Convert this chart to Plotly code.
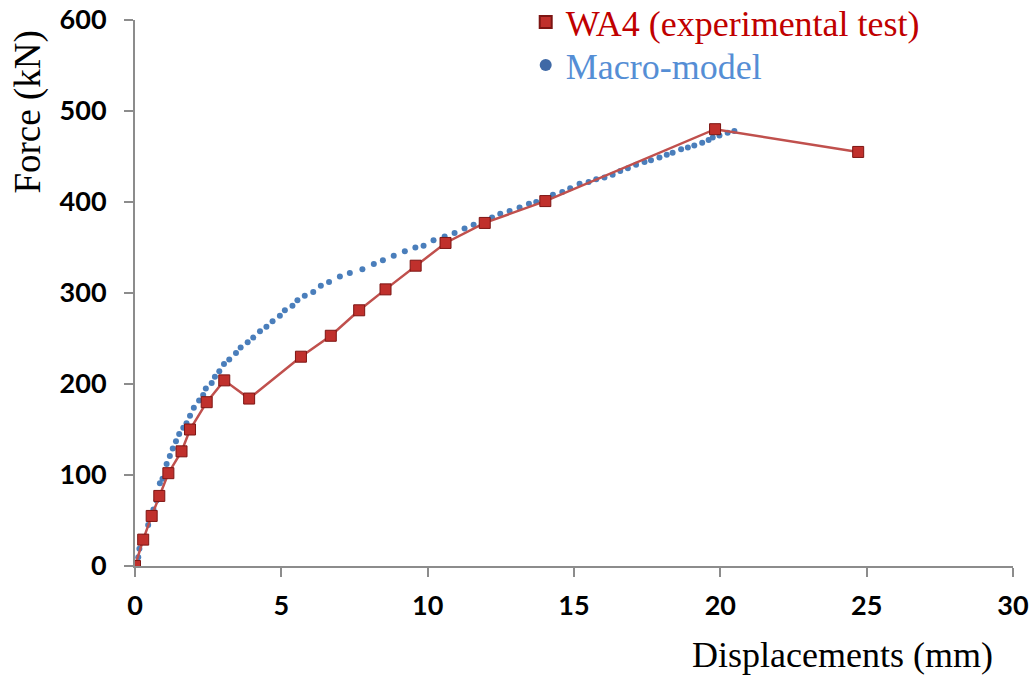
import plotly.graph_objects as go

# Experimental test WA4
exp_disp = [0, 0.28, 0.57, 0.83, 1.14, 1.59, 1.88, 2.45, 3.05, 3.90, 5.67, 6.69, 7.66,
            8.56, 9.59, 10.61, 11.95, 14.02, 19.82, 24.71]
exp_force = [0, 29, 55, 77, 102, 126, 150, 180, 204, 184, 230, 253, 281,
             304, 330, 355, 377, 401, 480, 455]

# Macro-model
mac_disp = [0.0, 0.11, 0.15, 0.30, 0.45, 0.63, 0.74, 0.85, 0.94, 1.08, 1.19, 1.29, 1.40, 1.51,
            1.65, 1.76, 1.88, 2.01, 2.19, 2.33, 2.42, 2.62, 2.73, 2.88, 3.04, 3.22,
            3.45, 3.61, 3.85, 4.04, 4.27, 4.49, 4.70, 4.95, 5.12, 5.38, 5.55, 5.80,
            6.09, 6.35, 6.63, 7.00, 7.34, 7.77, 8.16, 8.47, 8.84, 9.22, 9.58, 9.86,
            10.20, 10.58, 10.92, 11.26, 11.57, 11.90, 12.20, 12.48, 12.80, 13.14, 13.46,
            13.71, 14.00, 14.28, 14.60, 14.87, 15.19, 15.50, 15.76, 16.04, 16.32, 16.58,
            16.84, 17.12, 17.41, 17.63, 17.92, 18.17, 18.37, 18.66, 18.89, 19.11, 19.38,
            19.60, 19.74, 19.97, 20.25, 20.48]
mac_force = [0, 9.5, 19, 32, 45, 62, 72, 91, 96, 112, 121, 129, 137, 145,
             152, 157, 165, 174, 182, 188, 195, 201, 208, 214, 222, 227,
             234, 240, 246, 251, 258, 263, 269, 275, 281, 286, 292, 297,
             301, 308, 312, 318, 322, 326, 332, 336, 341, 346, 350, 352,
             358, 362, 366, 371, 375, 379, 383, 387, 390, 394, 398,
             400, 404, 408, 411, 415, 420, 422, 425, 427, 430, 434,
             437, 441, 444, 446, 449, 452, 454, 458, 460, 462, 465,
             468, 471, 473, 476, 478]

x_ticks = [0, 5, 10, 15, 20, 25, 30]
y_ticks = [0, 100, 200, 300, 400, 500, 600]

RED_LINE = "#c0504d"
RED_MARK = "#c0302c"
RED_EDGE = "#7d1513"
BLUE_DOT = "#4a7ebb"

fig = go.Figure()

fig.add_trace(go.Scatter(
    x=mac_disp, y=mac_force, mode="markers",
    marker=dict(color=BLUE_DOT, size=6, symbol="circle"),
    showlegend=False,
))
fig.add_trace(go.Scatter(
    x=exp_disp, y=exp_force, mode="lines+markers",
    line=dict(color=RED_LINE, width=2.5),
    marker=dict(color=RED_MARK, size=11, symbol="square",
                line=dict(color=RED_EDGE, width=1)),
    showlegend=False,
))
# legend-only entries
fig.add_trace(go.Scatter(
    x=[None], y=[None], mode="markers", legend="legend",
    marker=dict(color=RED_MARK, size=12, symbol="square", line=dict(color=RED_EDGE, width=1)),
    name="<span style='color:#c00000'>WA4 (experimental test)</span>",
))
fig.add_trace(go.Scatter(
    x=[None], y=[None], mode="markers", legend="legend2",
    marker=dict(color="#3f69a6", size=12, symbol="circle"),
    name="<span style='color:#558ed5'>Macro-model</span>",
))

axis_common = dict(
    showgrid=False, zeroline=False, showline=True,
    linecolor="#8c8c8c", linewidth=2,
    ticks="outside", ticklen=9, tickcolor="#8c8c8c", tickwidth=2,
    tickfont=dict(family="Lato", size=27, color="#000000", weight="bold"),
    ticklabeloverflow="allow",
)

leg_common = dict(
    xanchor="left", yanchor="middle",
    font=dict(family="Liberation Serif", size=36),
    bgcolor="rgba(0,0,0,0)", itemsizing="constant",
)

fig.update_layout(
    width=1032, height=678,
    margin=dict(l=135, r=19, t=20, b=112, autoexpand=False),
    paper_bgcolor="white", plot_bgcolor="white",
    xaxis=dict(range=[0, 30], tickvals=x_ticks, ticklabelstandoff=6, **axis_common),
    yaxis=dict(range=[0, 600], tickvals=y_ticks, ticklabelstandoff=12, **axis_common),
    legend=dict(x=0.445, y=0.996, **leg_common),
    legend2=dict(x=0.445, y=0.9176, **leg_common),
    annotations=[
        dict(text="Force (kN)", textangle=-90, xref="paper", yref="paper",
             x=-0.122, y=0.832, xanchor="center", yanchor="middle", showarrow=False,
             font=dict(family="Liberation Serif", size=37, color="#000000")),
        dict(text="Displacements (mm)", xref="paper", yref="paper",
             x=0.980, y=-0.163, xanchor="right", yanchor="middle", showarrow=False,
             font=dict(family="Liberation Serif", size=36, color="#000000")),
    ],
)

fig.write_html("out.html",
               config={"displayModeBar": False},
               post_script="document.body.style.margin='0';document.body.style.overflow='hidden';")
